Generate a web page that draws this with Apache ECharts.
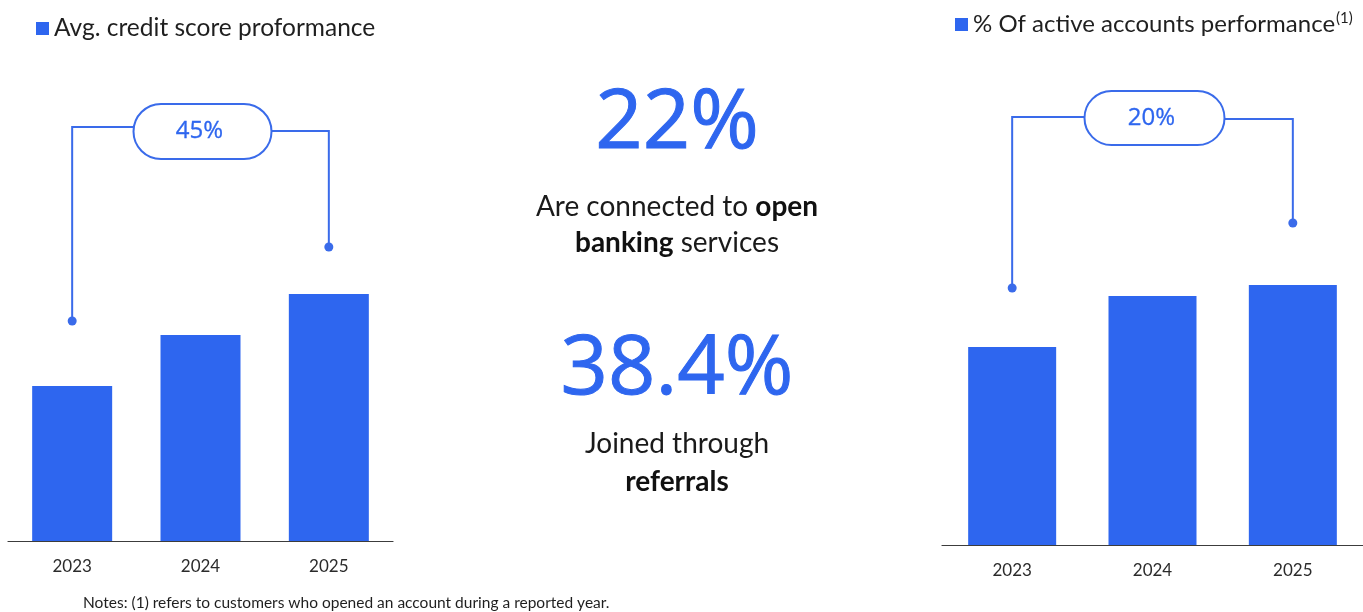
<!DOCTYPE html>
<html>
<head>
<meta charset="utf-8">
<script src="https://cdn.jsdelivr.net/npm/echarts@6/dist/echarts.min.js"></script>
<style>
  html, body { margin: 0; padding: 0; background: #ffffff; }
  #chart { width: 1363px; height: 612px; }
</style>
</head>
<body>
<div id="chart"></div>
<script>
// Years shown on both panels
const years = ['2023', '2024', '2025'];
// Left panel: average credit score performance (index)
const creditScore = [31, 41.2, 49.4];
// Right panel: % of active accounts performance (index)
const activeAccounts = [39.6, 49.8, 52];
// Growth callouts between 2023 and 2025
const creditGrowth = '45%';
const accountsGrowth = '20%';
// Headline statistics in the middle
const openBankingShare = '22%';
const referralShare = '38.4%';

const BLUE = '#2E66EF';
const LINE_BLUE = '#3A6BEA';
const FONT = 'Lato, "Open Sans", sans-serif';
const BIG_FONT = '"Open Sans", sans-serif';

const chart = echarts.init(document.getElementById('chart'), null, { renderer: 'canvas' });

chart.setOption({
  backgroundColor: '#ffffff',
  animation: false,
  textStyle: { fontFamily: FONT },
  legend: [
    {
      left: 31, top: 11, itemWidth: 13, itemHeight: 13, itemGap: 8,
      icon: 'rect',
      data: ['Avg. credit score proformance'],
      textStyle: { fontSize: 24.5, color: '#1f1f1f', fontFamily: FONT }
    },
    {
      left: 950, top: 6, itemWidth: 13, itemHeight: 13, itemGap: 6,
      icon: 'rect',
      data: ['% Of active accounts performance'],
      formatter: name => '{t|' + name + '}{s|(1)}',
      textStyle: {
        fontFamily: FONT,
        rich: {
          t: { fontSize: 24, color: '#1f1f1f', fontFamily: FONT },
          s: { fontSize: 15, color: '#1f1f1f', fontFamily: FONT, verticalAlign: 'top', padding: [0, 0, 12, 1] }
        }
      }
    }
  ],
  grid: [
    { left: 8, width: 385, top: 41, height: 500 },
    { left: 942, width: 424.5, top: 45, height: 500 }
  ],
  xAxis: [0, 1].map(i => ({
    type: 'category', gridIndex: i, data: years,
    axisLine: { lineStyle: { color: '#3c3c3c', width: 1.2 } },
    axisTick: { show: false },
    axisLabel: { fontSize: 17, color: '#2b2b2b', margin: 17, fontFamily: FONT }
  })),
  yAxis: [0, 1].map(i => ({
    type: 'value', gridIndex: i, min: 0, max: 100,
    show: false, splitLine: { show: false }
  })),
  series: [
    {
      name: 'Avg. credit score proformance', type: 'bar',
      xAxisIndex: 0, yAxisIndex: 0, data: creditScore,
      barWidth: 80, itemStyle: { color: BLUE }
    },
    {
      name: '% Of active accounts performance', type: 'bar',
      xAxisIndex: 1, yAxisIndex: 1, data: activeAccounts,
      barWidth: 88, itemStyle: { color: BLUE }
    }
  ]
});

// Bracket callout joining the first and last year of a panel
function bracket(gridIndex, fromLevel, toLevel, topLevel, rightLevel, pillLevel, pillW, pillH, label) {
  const px = (cat, v) => chart.convertToPixel({ xAxisIndex: gridIndex, yAxisIndex: gridIndex }, [cat, v]);
  const a = px(years[0], fromLevel);
  const b = px(years[years.length - 1], toLevel);
  const top = px(years[0], topLevel)[1];
  const topR = px(years[0], rightLevel)[1];
  const cy = px(years[0], pillLevel)[1];
  const cx = (a[0] + b[0]) / 2 + 2;
  const pl = cx - pillW / 2, pr = cx + pillW / 2;
  const line = { stroke: LINE_BLUE, lineWidth: 2, fill: null };
  return [
    { type: 'polyline', shape: { points: [[a[0], a[1]], [a[0], top], [pl, top]] }, style: line },
    { type: 'polyline', shape: { points: [[pr, topR], [b[0], topR], [b[0], b[1]]] }, style: line },
    { type: 'circle', shape: { cx: a[0], cy: a[1], r: 4.5 }, style: { fill: LINE_BLUE } },
    { type: 'circle', shape: { cx: b[0], cy: b[1], r: 4.5 }, style: { fill: LINE_BLUE } },
    {
      type: 'rect', shape: { x: pl, y: cy - pillH / 2, width: pillW, height: pillH, r: pillH / 2 },
      style: { fill: '#ffffff', stroke: LINE_BLUE, lineWidth: 2 }
    },
    {
      type: 'text', x: cx - 3, y: cy,
      style: {
        text: label, fill: BLUE, stroke: BLUE, lineWidth: 0.3,
        fontSize: 24, fontFamily: BIG_FONT, align: 'center', verticalAlign: 'middle'
      }
    }
  ];
}

function centerText(y, text, rich) {
  return { type: 'text', x: 677, y: y, style: { text: text, align: 'center', verticalAlign: 'middle', rich: rich } };
}

const bodyRich = {
  n: { fontSize: 28, fill: '#1a1a1a', fontFamily: FONT },
  b: { fontSize: 28, fill: '#111111', fontFamily: FONT, fontWeight: 'bold' },
  big: { fontSize: 83, fill: BLUE, stroke: BLUE, lineWidth: 1, fontFamily: BIG_FONT }
};

chart.setOption({
  graphic: [
    ...bracket(0, 44, 58.8, 82.8, 82, 81.9, 138, 55, creditGrowth),
    ...bracket(1, 51.4, 64.4, 85.6, 85.2, 85.4, 140, 54, accountsGrowth),
    centerText(124, '{big|' + openBankingShare + '}', bodyRich),
    centerText(207, '{n|Are connected to }{b|open}', bodyRich),
    centerText(243, '{b|banking}{n| services}', bodyRich),
    centerText(370, '{big|' + referralShare + '}', bodyRich),
    centerText(444, '{n|Joined through}', bodyRich),
    centerText(482, '{b|referrals}', bodyRich),
    {
      type: 'text', x: 83, y: 603,
      style: {
        text: 'Notes: (1) refers to customers who opened an account during a reported year.',
        fill: '#1f1f1f', fontSize: 15.5, fontFamily: FONT, verticalAlign: 'middle'
      }
    }
  ]
});
</script>
</body>
</html>
